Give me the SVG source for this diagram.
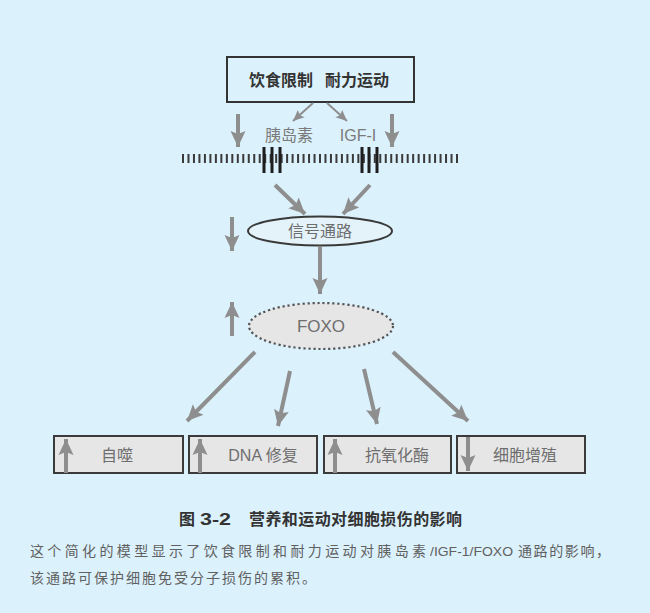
<svg xmlns="http://www.w3.org/2000/svg" width="650" height="613" viewBox="0 0 650 613">
<style>
.t{font-family:"Noto Sans CJK SC","Liberation Sans",sans-serif;fill:#6e6e6e;font-size:16px;text-anchor:middle}
.b{stroke:#3a3a3a;stroke-width:2;fill:#e6e6e6}
.a{stroke:#8e8e8e;stroke-width:4;fill:none;marker-end:url(#ah)}
.s{stroke:#8e8e8e;stroke-width:2;fill:none;marker-end:url(#sh)}
.cap{font-family:"Noto Sans CJK SC","Liberation Sans",sans-serif;fill:#606060;font-size:14px}
.ti{font-family:"Noto Sans CJK SC","Liberation Sans",sans-serif;fill:#333;font-size:16px;font-weight:bold}
</style>
<defs>
<marker id="ah" markerUnits="userSpaceOnUse" markerWidth="17" markerHeight="16" refX="16" refY="7.5" orient="auto" viewBox="0 0 17 15">
<path d="M0,0 L16,7.5 L0,15 L3,7.5 z" fill="#8e8e8e"/>
</marker>
<marker id="sh" markerUnits="userSpaceOnUse" markerWidth="12" markerHeight="12" refX="11" refY="5" orient="auto" viewBox="0 0 12 10">
<path d="M0,0 L11,5 L0,10 L2,5 z" fill="#8e8e8e"/>
</marker>
</defs>
<rect width="650" height="613" fill="#dbf1fc"/>

<g id="top">
<rect x="227" y="57" width="187" height="45" fill="#dbf1fc" stroke="#333" stroke-width="2"/>
<text x="281" y="86" class="t" style="fill:#333;font-weight:bold">饮食限制</text>
<text x="357" y="86" class="t" style="fill:#333;font-weight:bold">耐力运动</text>
</g>

<g id="labels">
<text x="289" y="141" class="t" style="fill:#7a7a7a">胰岛素</text>
<text x="358" y="141" class="t" style="fill:#7a7a7a;font-family:'Liberation Sans',sans-serif;font-size:16px">IGF-I</text>
</g>

<g id="membrane">
<line x1="182" y1="158.5" x2="459" y2="158.5" stroke="#3a3a3a" stroke-width="9" stroke-dasharray="2 3.48"/>
<path d="M264,147V173M272,147V173M280,147V173M362,147V173M369,147V173M377,147V173" stroke="#1e1e1e" stroke-width="3"/>
</g>

<g id="signal">
<ellipse cx="320" cy="231" rx="72" ry="14.5" fill="#e4f3fa" stroke="#3a3a3a" stroke-width="2"/>
<text x="320" y="237" class="t">信号通路</text>
</g>

<g id="foxo">
<ellipse cx="321" cy="326" rx="72" ry="23" fill="#e6e6e6" stroke="#555" stroke-width="2.2" stroke-dasharray="2.2 2.8"/>
<text x="321" y="332" class="t" style="font-family:'Liberation Sans',sans-serif;font-size:17px">FOXO</text>
</g>

<g id="box1">
<rect x="54" y="436" width="129" height="37" class="b"/>
<text x="117" y="461" class="t">自噬</text>
</g>
<g id="box2">
<rect x="189" y="436" width="128" height="37" class="b"/>
<text x="263" y="461" class="t"><tspan style="font-family:'Liberation Sans',sans-serif">DNA </tspan>修复</text>
</g>
<g id="box3">
<rect x="324" y="436" width="127" height="37" class="b"/>
<text x="397" y="461" class="t">抗氧化酶</text>
</g>
<g id="box4">
<rect x="457" y="436" width="128" height="37" class="b"/>
<text x="525" y="461" class="t">细胞增殖</text>
</g>

<g id="connectors">
<line x1="313" y1="103" x2="293" y2="121" class="s"/>
<line x1="327" y1="103" x2="347" y2="121" class="s"/>
<line x1="238" y1="114" x2="238" y2="147" class="a"/>
<line x1="392" y1="114" x2="392" y2="147" class="a"/>
<line x1="275" y1="185" x2="305" y2="214" class="a"/>
<line x1="370" y1="185" x2="343" y2="214" class="a"/>
<line x1="232" y1="217" x2="232" y2="251" class="a"/>
<line x1="320" y1="246" x2="320" y2="294" class="a"/>
<line x1="232" y1="336" x2="232" y2="302" class="a"/>
<line x1="255" y1="352" x2="187" y2="421" class="a"/>
<line x1="290" y1="371" x2="278" y2="426" class="a"/>
<line x1="364" y1="369" x2="377" y2="424" class="a"/>
<line x1="393" y1="352" x2="468" y2="421" class="a"/>
<line x1="66" y1="473" x2="66" y2="439" class="a"/>
<line x1="200" y1="473" x2="200" y2="439" class="a"/>
<line x1="335" y1="473" x2="335" y2="439" class="a"/>
<line x1="468" y1="437" x2="468" y2="471" class="a"/>
</g>

<g id="caption">
<text x="179" y="525" class="ti">图</text>
<text x="200" y="525" class="ti" style="font-family:'Liberation Sans',sans-serif" textLength="31" lengthAdjust="spacingAndGlyphs">3-2</text>
<text x="249" y="525" class="ti" textLength="213" lengthAdjust="spacing">营养和运动对细胞损伤的影响</text>
<text x="30" y="556" class="cap" textLength="396" lengthAdjust="spacing">这个简化的模型显示了饮食限制和耐力运动对胰岛素</text>
<text x="430" y="556" class="cap" style="font-family:'Liberation Sans',sans-serif;font-size:13.5px" textLength="83" lengthAdjust="spacingAndGlyphs">/IGF-1/FOXO</text>
<text x="518" y="556" class="cap" textLength="92" lengthAdjust="spacing">通路的影响，</text>
<text x="30" y="583" class="cap" textLength="286" lengthAdjust="spacing">该通路可保护细胞免受分子损伤的累积。</text>
</g>
</svg>
